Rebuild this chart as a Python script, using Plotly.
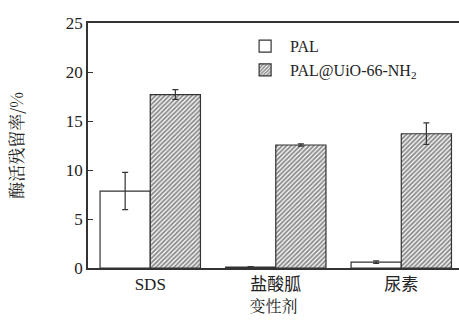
import plotly.graph_objects as go

categories = ["SDS", "盐酸胍", "尿素"]
pal_values = [7.85, 0.1, 0.6]
pal_errors = [1.9, 0.05, 0.12]
uio_values = [17.7, 12.55, 13.7]
uio_errors = [0.5, 0.12, 1.1]
y_ticks = [0, 5, 10, 15, 20, 25]

serif = "Liberation Serif, serif"
cjk = "Noto Serif CJK SC, Noto Sans CJK SC"
mixed = "Liberation Serif, Noto Sans CJK SC, serif"

fig = go.Figure()
fig.add_trace(go.Bar(
    x=categories, y=pal_values, name="PAL",
    marker=dict(color="white", line=dict(color="#333", width=1.2)),
    error_y=dict(type="data", array=pal_errors, color="#333", thickness=1.2, width=3),
))
fig.add_trace(go.Bar(
    x=categories, y=uio_values, name="PAL@UiO-66-NH<sub>2</sub>",
    marker=dict(color="white", line=dict(color="#333", width=1.2),
                pattern=dict(shape="/", fgcolor="#1a1a1a", bgcolor="white", size=3.2, solidity=0.6)),
    error_y=dict(type="data", array=uio_errors, color="#333", thickness=1.2, width=3),
))

fig.update_layout(
    width=459, height=321,
    margin=dict(l=88, r=0, t=23, b=53),
    paper_bgcolor="white", plot_bgcolor="white",
    barmode="group", bargap=0.2, bargroupgap=0,
    font=dict(family=mixed, size=16, color="#222"),
    showlegend=True,
    legend=dict(x=0.41, y=0.975, xanchor="left", yanchor="top",
                bgcolor="rgba(0,0,0,0)", font=dict(family=serif, size=16),
                tracegroupgap=0, itemwidth=40),
    xaxis=dict(
        range=[-0.496, 2.46], showline=True, linecolor="#333", linewidth=1.5,
        mirror=True, ticks="", showgrid=False, zeroline=False, automargin=False,
        tickfont=dict(family=mixed, size=17),
        title=dict(text="变性剂", font=dict(family=cjk, size=16), standoff=4),
    ),
    yaxis=dict(
        range=[0, 25], tickvals=y_ticks, showline=True, linecolor="#333", linewidth=1.5,
        ticks="inside", ticklen=5, tickcolor="#333", showgrid=False, zeroline=False,
        automargin=False,
        tickfont=dict(family=serif, size=17),
        title=dict(text="酶活残留率/%", font=dict(family=cjk, size=17), standoff=38),
    ),
)

fig.write_html("out.html", post_script="document.body.style.margin='0';",
               config={"displayModeBar": False})
